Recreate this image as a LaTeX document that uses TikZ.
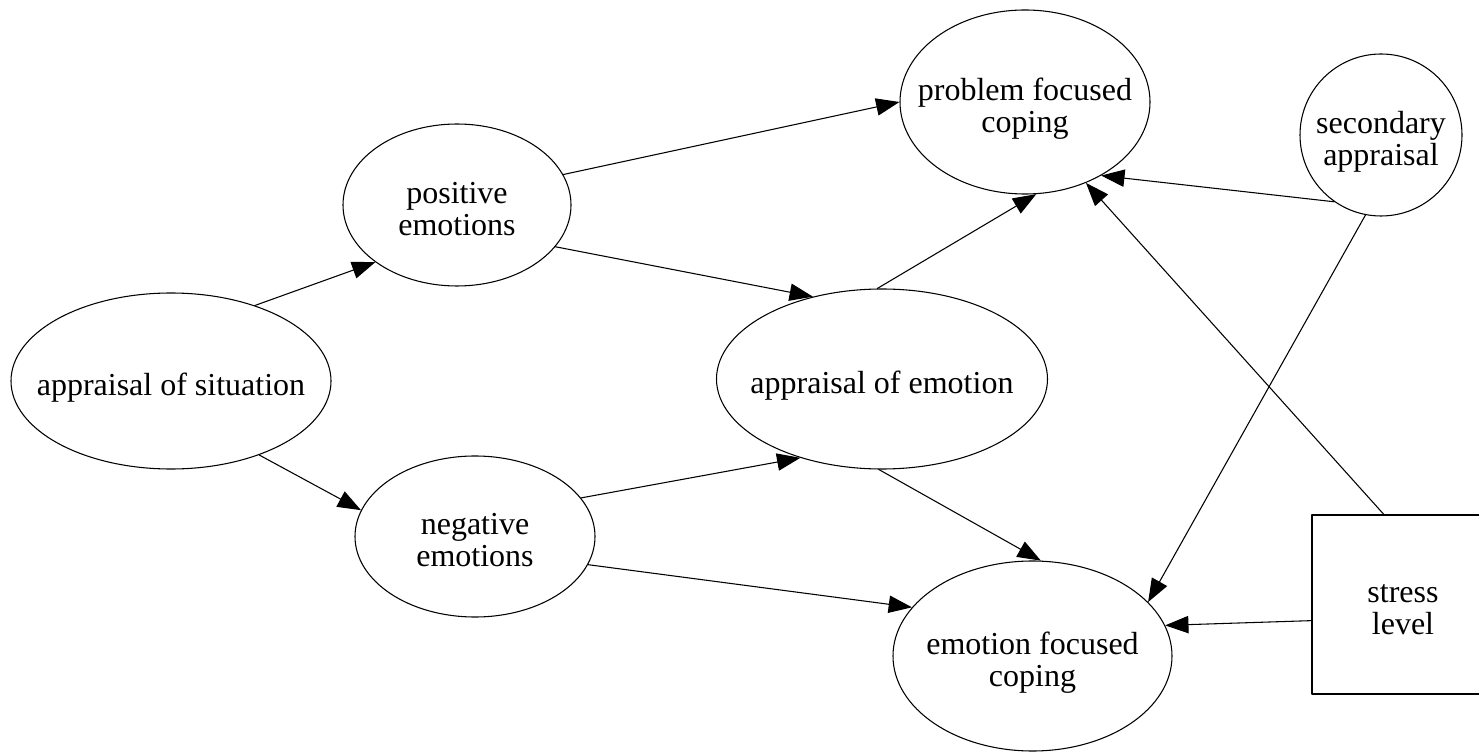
\documentclass[tikz,border=0pt]{standalone}
\usepackage{fontspec}
\setmainfont{Liberation Serif}
\usepackage{tikz}
\usetikzlibrary{shapes.geometric, arrows.meta}

% text of a node, centred, taking no room of its own
\newcommand{\nodetext}[1]{\makebox[0pt]{\smash{\raisebox{-12pt}{\begin{tabular}{@{}c@{}}#1\end{tabular}}}}}

\tikzset{
  oval/.style={ellipse, draw, inner sep=0pt},
  arr/.style={-{Triangle[length=17.5pt, width=13pt]}},
}

\begin{document}
\begin{tikzpicture}[x=0.75pt, y=-0.75pt, line width=0.8pt, line cap=round, line join=round,
    every node/.style={font=\fontsize{24}{24}\selectfont}]
                \useasboundingbox (0,0) rectangle (1479,755);
                % situation and the two kinds of emotion
                \node[oval, minimum width=240pt, minimum height=132pt] (sit) at (171,381) {\nodetext{appraisal of situation}};
                \node[oval, minimum width=171pt, minimum height=121.5pt] (pos) at (457,205) {\nodetext{positive\\emotions}};
                \node[oval, minimum width=180pt, minimum height=120.75pt] (neg) at (475,536.5) {\nodetext{negative\\emotions}};
                % appraisal of emotion
                \node[oval, minimum width=248.25pt, minimum height=135pt] (appr) at (882,379) {\nodetext{appraisal of emotion}};
                % coping
                \node[oval, minimum width=187.5pt, minimum height=138pt] (prob) at (1025,102) {\nodetext{problem focused\\coping}};
                \node[oval, minimum width=209.25pt, minimum height=142.5pt] (emo) at (1032.5,656) {\nodetext{emotion focused\\coping}};
                % secondary appraisal and stress level
                \node[circle, draw, inner sep=0pt, minimum size=121.5pt] (sec) at (1381,135) {\nodetext{secondary\\appraisal}};
                \node[rectangle, draw, inner sep=0pt, minimum width=136.5pt, minimum height=134.25pt] (stress) at (1403,604.5) {\nodetext{stress\\level}};
                % edges
                \draw[arr] (sit.42.1) -- (pos.215.5);
                \draw[arr] (sit.320.6) -- (neg.167.2);
                \draw[arr] (pos.16.7) -- (prob.180);
                \draw[arr] (pos.337.7) -- (appr.130.8);
                \draw[arr] (neg.20.6) -- (appr.224.6);
                \draw[arr] (neg.346.2) -- (emo.158.6);
                \draw[arr] (appr.93.1) -- (prob.277.4);
                \draw[arr] (appr.268.7) -- (emo.85.7);
                \draw[arr] (sec.235.1) -- (prob.316.9);
                \draw[arr] (sec.259.8) -- (emo.25.9);
                \draw[arr] (stress.102.6) -- (prob.307.4);
                \draw[arr] (stress.190.3) -- (emo.13.7);
\end{tikzpicture}
\end{document}
